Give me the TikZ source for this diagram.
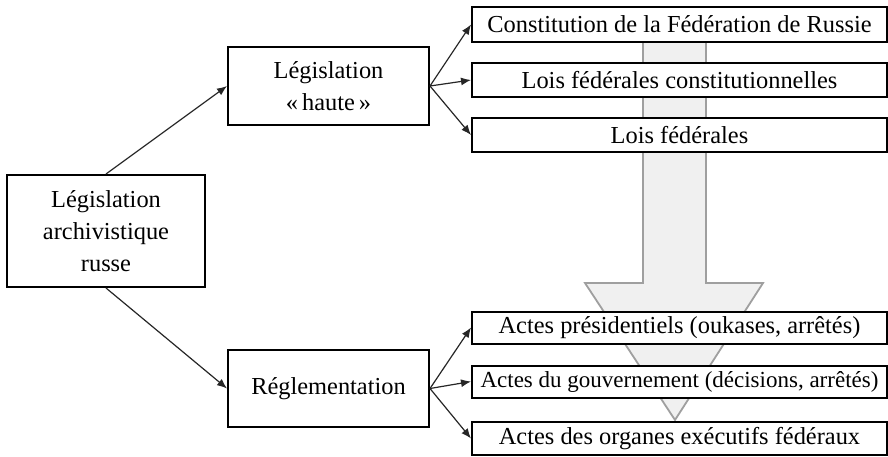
\documentclass[tikz,border=0pt]{standalone}
\usepackage{fontspec}
\setmainfont{Liberation Serif}
\usetikzlibrary{arrows.meta}
\newcommand{\boite}[6]{
\path (#2,#3) node[draw,fill=white,line width=1pt,inner sep=0pt,align=center,minimum width=#4pt,minimum height=#5pt] (#1) {#6};
}

\begin{document}
\begin{tikzpicture}[x=0.5pt,y=-0.5pt,font=\fontsize{12.2}{16}\selectfont]
\useasboundingbox (0,0) rectangle (888,456);
% grande fleche de hierarchie
\draw[fill=gray!12,draw=gray!75,line width=0.9pt] (643,30)--(643,283)--(585,283)--(675,420)--(763,283)--(706,283)--(706,30);
\boite{leg}{106}{231}{99}{56}{Législation\\archivistique\\russe}
\boite{haute}{328.5}{86}{100.5}{39}{Législation\\«\,haute\,»}
\boite{regl}{328.5}{388.5}{100.5}{38.5}{Réglementation}
\boite{c1}{679.5}{24.5}{207.5}{17.5}{Constitution de la Fédération de Russie}
\boite{c2}{679.5}{80}{207.5}{17}{Lois fédérales constitutionnelles}
\boite{c3}{679.5}{135}{207.5}{17}{Lois fédérales}
\boite{a1}{679.5}{327.5}{207.5}{16}{Actes présidentiels (oukases, arrêtés)}
\boite{a2}{679.5}{381.5}{207.5}{16}{\fontsize{11.5}{16}\selectfont Actes du gouvernement (décisions, arrêtés)}
\boite{a3}{679.5}{438.5}{207.5}{16.5}{Actes des organes exécutifs fédéraux}
\path[every edge/.style={draw=black!85,line width=0.6pt,-{Latex[length=5pt,width=4pt]}}]
  (leg.north) edge (haute.west)
  (leg.south) edge (regl.west)
  (haute.east) edge (c1.west) edge (c2.west) edge (c3.west)
  (regl.east) edge (a1.west) edge (a2.west) edge (a3.west);
\end{tikzpicture}
\end{document}
